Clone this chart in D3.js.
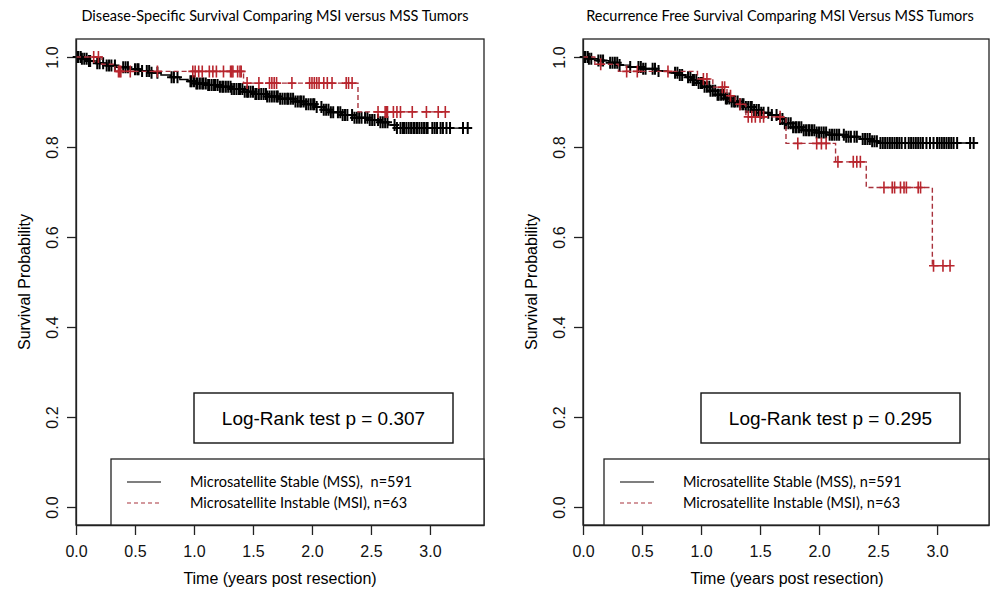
<!DOCTYPE html>
<html>
<head>
<meta charset="utf-8">
<script src="https://cdn.jsdelivr.net/npm/d3@7"></script>
<style>
  body { margin: 0; background: #fff; }
  .tick text { font-family: "Liberation Sans", Arial, sans-serif; font-size: 16px; fill: #111; }
</style>
</head>
<body>
<svg id="chart" width="990" height="592"></svg>
<script>
// ---- values ----
const timeTicks = [0, 0.5, 1.0, 1.5, 2.0, 2.5, 3.0];
const survTicks = [0, 0.2, 0.4, 0.6, 0.8, 1.0];

const panelTitles = ["Disease-Specific Survival Comparing MSI versus MSS Tumors",
                     "Recurrence Free Survival Comparing MSI Versus MSS Tumors"];
const pValues = ["0.307", "0.295"];
const mssLabels = ["Microsatellite Stable (MSS),  n=591", "Microsatellite Stable (MSS), n=591"];
const msiLabels = ["Microsatellite Instable (MSI), n=63", "Microsatellite Instable (MSI), n=63"];

// Disease-specific survival, MSS (step times, survival after each step, censor times)
const dssMssTime = [0, 0.05, 0.10, 0.18, 0.26, 0.34, 0.45, 0.55, 0.64, 0.72, 0.80, 0.88, 0.95, 1.02, 1.12, 1.22,
                    1.32, 1.42, 1.52, 1.62, 1.72, 1.86, 1.95, 2.03, 2.10, 2.15, 2.25, 2.36, 2.48, 2.58, 2.65, 2.72];
const dssMssSurv = [1, 0.996, 0.991, 0.986, 0.981, 0.977, 0.973, 0.969, 0.965, 0.960, 0.955, 0.950, 0.946, 0.941, 0.938, 0.934,
                    0.929, 0.923, 0.918, 0.912, 0.907, 0.901, 0.895, 0.889, 0.883, 0.877, 0.871, 0.865, 0.860, 0.855, 0.849, 0.842];
const dssMssCensor = [0.01, 0.02, 0.04, 0.05, 0.07, 0.09, 0.11, 0.12, 0.18, 0.20, 0.23, 0.26, 0.28, 0.30, 0.33, 0.40, 0.42, 0.44,
    0.50, 0.52, 0.53, 0.56, 0.60, 0.62, 0.64, 0.69, 0.81, 0.83, 0.86, 0.97, 0.98, 1.00, 1.02, 1.03, 1.05, 1.07, 1.08, 1.10,
    1.12, 1.13, 1.15, 1.17, 1.18, 1.20, 1.22, 1.24, 1.25, 1.27, 1.29, 1.31, 1.32, 1.34, 1.36, 1.38, 1.39, 1.41, 1.43, 1.45,
    1.46, 1.48, 1.50, 1.52, 1.53, 1.55, 1.57, 1.59, 1.61, 1.62, 1.64, 1.66, 1.68, 1.70, 1.71, 1.73, 1.75, 1.77, 1.79, 1.80,
    1.82, 1.84, 1.86, 1.88, 1.90, 1.91, 1.93, 1.95, 1.97, 1.99, 2.01, 2.02, 2.04, 2.08, 2.10, 2.12, 2.14, 2.16, 2.18, 2.22,
    2.24, 2.26, 2.28, 2.30, 2.34, 2.36, 2.38, 2.40, 2.42, 2.45, 2.47, 2.49, 2.51, 2.53, 2.56, 2.58, 2.60, 2.62, 2.64, 2.70,
    2.72, 2.75, 2.77, 2.78, 2.80, 2.82, 2.84, 2.86, 2.87, 2.89, 2.91, 2.93, 2.95, 2.97, 2.98, 3.02, 3.04, 3.06, 3.09, 3.11,
    3.14, 3.17, 3.28, 3.32];

// Disease-specific survival, MSI
const dssMsiTime = [0, 0.22, 0.33, 1.42, 2.39];
const dssMsiSurv = [1, 0.984, 0.968, 0.942, 0.878];
const dssMsiCensor = [0.15, 0.19, 0.36, 0.37, 0.38, 0.46, 0.69, 0.99, 1.01, 1.04, 1.07, 1.13, 1.16, 1.19, 1.25, 1.31,
    1.32, 1.33, 1.37, 1.39, 1.40, 1.45, 1.55, 1.64, 1.66, 1.68, 1.70, 1.83, 1.98, 2.00, 2.02, 2.04, 2.06, 2.10, 2.13,
    2.17, 2.29, 2.31, 2.34, 2.56, 2.62, 2.63, 2.64, 2.69, 2.72, 2.75, 2.85, 2.97, 3.07, 3.13];

// Recurrence free survival, MSS
const rfsMssTime = [0, 0.05, 0.13, 0.22, 0.30, 0.40, 0.50, 0.62, 0.72, 0.81, 0.87, 0.92, 0.97, 1.03, 1.08, 1.14, 1.20,
                    1.26, 1.32, 1.38, 1.45, 1.50, 1.59, 1.65, 1.71, 1.78, 1.86, 1.97, 2.09, 2.22, 2.35, 2.44, 2.50];
const rfsMssSurv = [1, 0.996, 0.992, 0.987, 0.982, 0.978, 0.974, 0.969, 0.965, 0.960, 0.955, 0.949, 0.942, 0.934, 0.925, 0.916, 0.908,
                    0.901, 0.895, 0.889, 0.882, 0.876, 0.871, 0.862, 0.853, 0.844, 0.837, 0.832, 0.827, 0.823, 0.818, 0.813, 0.809];
const rfsMssCensor = [0.01, 0.02, 0.04, 0.05, 0.07, 0.13, 0.15, 0.17, 0.23, 0.25, 0.27, 0.29, 0.31, 0.40, 0.47, 0.49, 0.51,
    0.53, 0.59, 0.61, 0.64, 0.78, 0.80, 0.82, 0.84, 0.89, 0.91, 0.93, 0.94, 0.96, 0.98, 1.00, 1.01, 1.03, 1.05, 1.07, 1.08,
    1.10, 1.12, 1.14, 1.15, 1.17, 1.19, 1.21, 1.22, 1.24, 1.26, 1.28, 1.29, 1.31, 1.33, 1.35, 1.36, 1.38, 1.40, 1.42, 1.43,
    1.45, 1.47, 1.49, 1.51, 1.53, 1.57, 1.60, 1.64, 1.67, 1.69, 1.71, 1.72, 1.74, 1.76, 1.78, 1.80, 1.81, 1.83, 1.85, 1.87,
    1.89, 1.91, 1.92, 1.94, 1.96, 1.98, 2.00, 2.02, 2.04, 2.06, 2.09, 2.11, 2.13, 2.15, 2.17, 2.21, 2.23, 2.25, 2.27, 2.30,
    2.32, 2.37, 2.39, 2.41, 2.43, 2.45, 2.47, 2.49, 2.52, 2.54, 2.56, 2.58, 2.60, 2.62, 2.64, 2.66, 2.68, 2.70, 2.73, 2.76,
    2.78, 2.80, 2.82, 2.84, 2.86, 2.88, 2.91, 2.94, 2.97, 3.00, 3.02, 3.04, 3.06, 3.08, 3.10, 3.12, 3.14, 3.17, 3.28, 3.31];

// Recurrence free survival, MSI
const rfsMsiTime = [0, 0.10, 0.30, 0.97, 1.10, 1.22, 1.29, 1.38, 1.72, 2.14, 2.40, 2.96];
const rfsMsiSurv = [1, 0.984, 0.968, 0.951, 0.933, 0.914, 0.895, 0.867, 0.808, 0.767, 0.710, 0.536];
const rfsMsiCensor = [0.15, 0.37, 0.46, 0.72, 1.02, 1.05, 1.18, 1.20, 1.25, 1.33, 1.40, 1.43, 1.46, 1.50, 1.53, 1.67,
    1.82, 1.98, 2.02, 2.06, 2.16, 2.29, 2.32, 2.35, 2.55, 2.62, 2.64, 2.69, 2.72, 2.74, 2.84, 2.86, 2.97, 3.05, 3.11];

// ---- layout ----
const mssColor = "#000";
const msiColor = "#a8323c";
const crossColor = "#b8262e";
const plotTop = 39, plotBottom = 525;

let panels = [
    { left: 76, right: 484, xMax: 3.458, title: panelTitles[0], titleX: 275, p: pValues[0],
      mss: [dssMssTime, dssMssSurv, dssMssCensor], msi: [dssMsiTime, dssMsiSurv, dssMsiCensor],
      mssLabel: mssLabels[0], msiLabel: msiLabels[0], legendX: 111, rankX: 194 },
    { left: 583, right: 989, xMax: 3.44, title: panelTitles[1], titleX: 780, p: pValues[1],
      mss: [rfsMssTime, rfsMssSurv, rfsMssCensor], msi: [rfsMsiTime, rfsMsiSurv, rfsMsiCensor],
      mssLabel: mssLabels[1], msiLabel: msiLabels[1], legendX: 604, rankX: 701 }
];

let svg = d3.select("#chart");

panels.forEach(function(cfg) { drawPanel(cfg); });

// survival value in effect at time t (last step at or before t)
function survAt(times, survs, t) {
    let i = d3.bisectRight(times, t) - 1;
    return survs[Math.max(i, 0)];
}

function drawPanel(cfg) {
    let g = svg.append("g");

    let x = d3.scaleLinear().domain([0, cfg.xMax]).range([cfg.left, cfg.right]);
    let y = d3.scaleLinear().domain([-0.04, 1.04]).range([plotBottom, plotTop]);

    // title
    g.append("text")
        .attr("x", cfg.titleX).attr("y", 21)
        .attr("text-anchor", "middle")
        .style("font-family", "Lato, 'Open Sans', sans-serif")
        .style("font-size", "14.5px")
        .style("fill", "#000")
        .text(cfg.title);

    // x axis
    let xAxis = g.append("g")
        .attr("transform", "translate(0," + plotBottom + ")")
        .call(d3.axisBottom(x).tickValues(timeTicks).tickFormat(d3.format(".1f"))
              .tickSize(10).tickSizeOuter(0).tickPadding(11));
    xAxis.selectAll("line, path").attr("stroke", "#222").attr("stroke-width", 1.3);

    // y axis, labels turned like base R
    let yAxis = g.append("g")
        .attr("transform", "translate(" + cfg.left + ",0)")
        .call(d3.axisLeft(y).tickValues(survTicks).tickFormat(d3.format(".1f"))
              .tickSize(9).tickSizeOuter(0));
    yAxis.selectAll("line, path").attr("stroke", "#222").attr("stroke-width", 1.3);
    yAxis.selectAll("text")
        .attr("x", null).attr("dy", "0.35em")
        .attr("text-anchor", "middle")
        .attr("transform", "translate(-24,0) rotate(-90)");

    // axis titles
    g.append("text")
        .attr("x", cfg.left + 204).attr("y", 584)
        .attr("text-anchor", "middle")
        .style("font-family", "'Liberation Sans', Arial, sans-serif")
        .style("font-size", "16px")
        .text("Time (years post resection)");

    g.append("text")
        .attr("transform", "translate(" + (cfg.left - 52) + "," + y(0.5) + ") rotate(-90)")
        .attr("text-anchor", "middle")
        .attr("dy", "0.35em")
        .style("font-family", "'Liberation Sans', Arial, sans-serif")
        .style("font-size", "16px")
        .text("Survival Probability");

    // survival curves with censor crosses
    drawCurve(g, x, y, cfg.mss, mssColor, mssColor, null, 2);
    drawCurve(g, x, y, cfg.msi, msiColor, crossColor, "5,3", 1.6);

    // frame
    g.append("rect")
        .attr("x", cfg.left).attr("y", plotTop)
        .attr("width", cfg.right - cfg.left).attr("height", plotBottom - plotTop)
        .attr("fill", "none").attr("stroke", "#222").attr("stroke-width", 1.3);

    // log-rank box
    g.append("rect")
        .attr("x", cfg.rankX).attr("y", 393)
        .attr("width", 259).attr("height", 50)
        .attr("fill", "#fff").attr("stroke", "#111").attr("stroke-width", 1.4);
    g.append("text")
        .attr("x", cfg.rankX + 129.5).attr("y", 418)
        .attr("dy", "0.35em")
        .attr("text-anchor", "middle")
        .style("font-family", "'Liberation Sans', Arial, sans-serif")
        .style("font-size", "19px")
        .text("Log-Rank test p = " + cfg.p);

    // legend
    g.append("rect")
        .attr("x", cfg.legendX).attr("y", 459)
        .attr("width", cfg.right - cfg.legendX).attr("height", plotBottom - 459)
        .attr("fill", "#fff").attr("stroke", "#222").attr("stroke-width", 1.3);

    let rows = [[cfg.mssLabel, mssColor, null, 482], [cfg.msiLabel, msiColor, "4,3", 503]];
    rows.forEach(function(r) {
        g.append("line")
            .attr("x1", cfg.legendX + 16).attr("x2", cfg.legendX + 50)
            .attr("y1", r[3]).attr("y2", r[3])
            .attr("stroke", r[1]).attr("stroke-width", 1.2)
            .attr("stroke-dasharray", r[2]);
        g.append("text")
            .attr("x", cfg.legendX + 79).attr("y", r[3])
            .attr("dy", "0.35em")
            .style("white-space", "pre")
            .style("font-family", "Lato, 'Open Sans', sans-serif")
            .style("font-size", "14.5px")
            .style("fill", "#000")
            .text(r[0]);
    });
}

function drawCurve(g, x, y, series, lineColor, markColor, dash, markWidth) {
    let times = series[0], survs = series[1], censor = series[2];
    let end = d3.max(censor);

    let pts = times.map(function(t, i) { return [t, survs[i]]; });
    pts.push([end, survs[survs.length - 1]]);

    let line = d3.line()
        .x(function(d) { return x(d[0]); })
        .y(function(d) { return y(d[1]); })
        .curve(d3.curveStepAfter);

    g.append("path")
        .datum(pts)
        .attr("d", line)
        .attr("fill", "none")
        .attr("stroke", lineColor)
        .attr("stroke-width", 1.4)
        .attr("stroke-dasharray", dash);

    // censored observations as "+" marks on the curve
    g.append("g").selectAll("path")
        .data(censor)
        .enter().append("path")
        .attr("transform", function(t) {
            return "translate(" + x(t) + "," + y(survAt(times, survs, t)) + ")";
        })
        .attr("d", "M-4.5,0H4.5M0,-6V6")
        .attr("stroke", markColor)
        .attr("stroke-width", markWidth)
        .attr("fill", "none");
}
</script>
</body>
</html>
